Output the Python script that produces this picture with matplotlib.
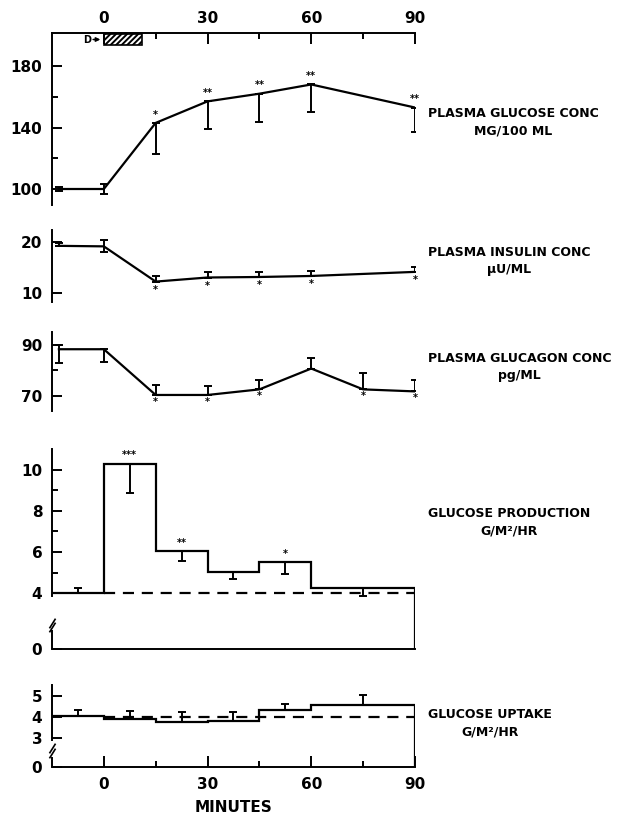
import numpy as np
import matplotlib.pyplot as plt
from matplotlib.patches import Rectangle

plt.rcParams['font.family'] = 'DejaVu Sans'
plt.rcParams['font.weight'] = 'bold'
plt.rcParams['axes.labelweight'] = 'bold'
plt.rcParams['hatch.linewidth'] = 1.4

# --- datos ---
t_pts = [-13, 0, 15, 30, 45, 60, 90]
t_gcg = [-13, 0, 15, 30, 45, 60, 75, 90]

glucose = [100, 100, 143, 157, 162, 168, 153]
glucose_lo = [1.3, 3, 20, 18, 18.5, 18, 16]
glucose_hi = [1.3, 3, 0, 0, 0, 0, 0]
glucose_stars = ['', '', '*', '**', '**', '**', '**']

insulin = [19.2, 19.1, 12.2, 13.0, 13.1, 13.3, 14.1]
insulin_lo = [0, 1.15, 0, 0, 0, 0, 0]
insulin_hi = [0.6, 1.15, 1.0, 1.1, 1.0, 1.0, 1.0]
insulin_stars = ['', '', '*', '*', '*', '*', '*']

glucagon = [88.3, 88.3, 70.3, 70.3, 72.5, 80.7, 72.5, 71.7]
glucagon_lo = [5.5, 5.2, 0, 0, 0, 0, 0, 0]
glucagon_hi = [1.7, 0, 3.9, 3.7, 3.6, 4.3, 6.5, 4.6]
glucagon_stars = ['', '', '*', '*', '*', '', '*', '*']

edges = [-15, 0, 15, 30, 45, 60, 90]
t_mid = [-7.5, 7.5, 22.5, 37.5, 52.5, 75]

production = [4.0, 10.28, 6.03, 5.02, 5.5, 4.27]
production_lo = [0, 1.44, 0.48, 0.34, 0.56, 0.43]
production_hi = [0.27, 0, 0, 0, 0, 0]
production_stars = ['', '***', '**', '', '*', '']

uptake = [4.05, 3.89, 3.76, 3.82, 4.31, 4.55]
uptake_lo = [0, 0, 0, 0, 0, 0]
uptake_hi = [0.25, 0.4, 0.48, 0.4, 0.28, 0.5]

basal = 4.0

# eje roto: posicion (en unidades del eje) donde se dibuja el "0"
prod_floor = 1.27
upt_floor = 1.62

lw = 1.6
fig = plt.figure(figsize=(6.24, 8.18), dpi=100)

L, W = 0.0833, 0.5817
ax1 = fig.add_axes([L, 0.7494, W, 0.2103])
ax2 = fig.add_axes([L, 0.6308, W, 0.0880])
ax3 = fig.add_axes([L, 0.4979, W, 0.0966])
ax4 = fig.add_axes([L, 0.2062, W, 0.2449])
ax5 = fig.add_axes([L, 0.0620, W, 0.1006])
axes = [ax1, ax2, ax3, ax4, ax5]

for ax in axes:
    ax.set_xlim(-15, 90)
    for s in ax.spines.values():
        s.set_visible(False)
    ax.spines['left'].set_visible(True)
    ax.spines['left'].set_linewidth(1.4)
    ax.tick_params(axis='y', direction='in', length=7, width=1.4,
                   pad=7, labelsize=11)
    ax.tick_params(axis='y', which='minor', direction='in', length=4, width=1.4)
    ax.tick_params(axis='x', which='both', bottom=False, top=False,
                   labelbottom=False, labeltop=False)


def stars(ax, xs, ys, marks, dy):
    for x, y, m in zip(xs, ys, marks):
        if m:
            ax.annotate(m, (x, y), xytext=(0, dy), textcoords='offset points',
                        ha='center', va='center', fontsize=7)


def err(ax, xs, ys, lo, hi):
    ax.errorbar(xs, ys, yerr=[lo, hi], fmt='none', ecolor='k',
                elinewidth=1.4, capsize=3, capthick=1.4)


# panel 1: glucosa
ax1.plot(t_pts, glucose, color='k', lw=lw)
err(ax1, t_pts, glucose, glucose_lo, glucose_hi)
stars(ax1, t_pts, glucose, glucose_stars, 6)
ax1.set_ylim(89.6, 201.5)
ax1.set_yticks([100, 140, 180])
ax1.set_yticks([120, 160], minor=True)
ax1.spines['top'].set_visible(True)
ax1.spines['top'].set_linewidth(1.4)
ax1.xaxis.tick_top()
ax1.set_xticks([0, 30, 60, 90])
ax1.set_xticks([15, 45, 75], minor=True)
ax1.tick_params(axis='x', which='major', top=True, labeltop=True,
                direction='in', length=8, width=1.4, pad=5, labelsize=11)
ax1.tick_params(axis='x', which='minor', top=True, direction='in',
                length=4, width=1.4)
tr = ax1.get_xaxis_transform()
ax1.add_patch(Rectangle((0, 0.93), 11, 0.065, transform=tr, fill=False,
                        hatch='//////', lw=1.2, clip_on=False))
ax1.text(-4.8, 0.962, 'D', transform=tr, ha='center', va='center', fontsize=7)
ax1.annotate('', xy=(-0.2, 0.962), xytext=(-3.9, 0.962), xycoords=tr,
             textcoords=tr, arrowprops=dict(arrowstyle='-|>', lw=1.1,
                                            color='k', mutation_scale=6))

# panel 2: insulina
ax2.plot(t_pts, insulin, color='k', lw=lw)
err(ax2, t_pts, insulin, insulin_lo, insulin_hi)
stars(ax2, t_pts, insulin, insulin_stars, -6)
ax2.set_ylim(8.2, 22.3)
ax2.set_yticks([10, 20])

# panel 3: glucagon
ax3.plot(t_gcg, glucagon, color='k', lw=lw)
err(ax3, t_gcg, glucagon, glucagon_lo, glucagon_hi)
stars(ax3, t_gcg, glucagon, glucagon_stars, -5)
ax3.set_ylim(64.1, 95.2)
ax3.set_yticks([70, 90])
ax3.set_yticks([80], minor=True)


def broken(ax, vals, lo, hi, floor, top, spine_lo, seg_hi, slash_y):
    ax.stairs(vals, edges, baseline=None, color='k', lw=lw)
    ax.vlines(edges[-1], floor, vals[-1], color='k', lw=lw)
    ax.hlines(basal, 0, 90, color='k', lw=1.6, linestyles=(0, (5, 3.5)))
    err(ax, t_mid, vals, lo, hi)
    ax.set_ylim(floor, top)
    ax.spines['left'].set_bounds(spine_lo, top)
    ax.spines['bottom'].set_visible(True)
    ax.spines['bottom'].set_linewidth(1.4)
    ytr = ax.get_yaxis_transform()
    ax.plot([0, 0], [floor, seg_hi], transform=ytr, color='k', lw=1.4,
            clip_on=False, solid_capstyle='butt')
    ax.plot([0, 0], slash_y, transform=ytr, linestyle='none', color='k',
            marker=[(-1, -1.6), (1, 1.6)], markersize=7, mew=1.2,
            clip_on=False)


# panel 4: produccion de glucosa
broken(ax4, production, production_lo, production_hi, prod_floor, 11.0,
       3.85, 2.2, [2.55, 2.35])
stars(ax4, t_mid, production, production_stars, 6)
ax4.set_yticks([prod_floor, 4, 6, 8, 10])
ax4.set_yticklabels(['0', '4', '6', '8', '10'])
ax4.set_yticks([5, 7, 9], minor=True)

# panel 5: captacion de glucosa
broken(ax5, uptake, uptake_lo, uptake_hi, upt_floor, 5.5,
       2.9, 2.1, [2.55, 2.3])
ax5.set_yticks([upt_floor, 3, 4, 5])
ax5.set_yticklabels(['0', '3', '4', '5'])
ax5.set_xticks([0, 30, 60, 90])
ax5.set_xticks([15, 45, 75], minor=True)
ax5.tick_params(axis='x', which='major', bottom=True, labelbottom=True,
                direction='in', length=8, width=1.4, pad=7, labelsize=11)
ax5.tick_params(axis='x', which='minor', bottom=True, direction='in',
                length=4, width=1.4)
ax5.set_xlabel('MINUTES', fontsize=11, fontweight='bold', labelpad=6)

# rotulos de la derecha
labels = [
    ('PLASMA GLUCOSE CONC\nMG/100 ML', 122.5),
    ('PLASMA INSULIN CONC\nµU/ML', 261),
    ('PLASMA GLUCAGON CONC\npg/ML', 367),
    ('GLUCOSE PRODUCTION\nG/M²/HR', 522),
    ('GLUCOSE UPTAKE\nG/M²/HR', 723),
]
for txt, ypx in labels:
    fig.text(0.686, 1 - ypx / 818, txt, ha='left', va='center',
             multialignment='center', fontsize=9, linespacing=1.45)

fig.savefig('out.png', dpi=100)
